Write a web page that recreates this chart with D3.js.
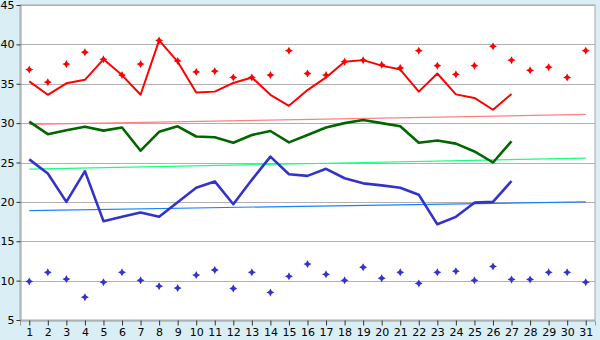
<!DOCTYPE html>
<html>
<head>
<meta charset="utf-8">
<script src="https://cdn.jsdelivr.net/npm/d3@7"></script>
<style>
  body { margin: 0; background: #d9eef5; }
  text { font-family: "DejaVu Sans", Verdana, sans-serif; font-size: 11px; fill: #000; }
</style>
</head>
<body>
<div id="chart"></div>
<script>
var days = d3.range(1, 32);
var yTicks = [5, 10, 15, 20, 25, 30, 35, 40, 45];

// lines run day 1..27
var redLine = [35.3, 33.6, 35.05, 35.5, 38.1, 36.1, 33.6, 40.5, 37.8, 33.9,
  34.0, 35.1, 35.8, 33.6, 32.2, 34.2, 35.8, 37.8, 38.0, 37.3,
  36.8, 34.0, 36.3, 33.65, 33.2, 31.7, 33.7];
var greenLine = [30.2, 28.6, 29.1, 29.55, 29.05, 29.45, 26.5, 28.9, 29.6, 28.3,
  28.2, 27.5, 28.5, 29.0, 27.55, 28.5, 29.45, 30.0, 30.4, 30.0,
  29.6, 27.5, 27.8, 27.4, 26.4, 25.0, 27.7];
var blueLine = [25.4, 23.6, 20.0, 23.9, 17.55, 18.1, 18.65, 18.1, 19.95, 21.8,
  22.6, 19.7, 22.8, 25.75, 23.5, 23.3, 24.2, 23.0, 22.35, 22.1,
  21.8, 20.9, 17.15, 18.1, 19.9, 20.0, 22.65];

// markers run day 1..31
var redDots = [36.8, 35.2, 37.5, 39.0, 38.1, 36.1, 37.5, 40.5, 37.9, 36.5,
  36.6, 35.8, 35.8, 36.1, 39.2, 36.3, 36.1, 37.8, 38.0, 37.4,
  37.0, 39.2, 37.3, 36.2, 37.3, 39.75, 38.0, 36.7, 37.1, 35.8, 39.2];
var blueDots = [9.9, 11.05, 10.2, 7.9, 9.8, 11.05, 10.04, 9.3, 9.06, 10.7,
  11.35, 9.0, 11.05, 8.5, 10.55, 12.1, 10.8, 10.04, 11.7, 10.3,
  11.05, 9.65, 11.05, 11.2, 10.04, 11.8, 10.15, 10.15, 11.05, 11.05, 9.8];

// trend lines: value at day 1 and day 31
var redTrend = [29.85, 31.1];
var greenTrend = [24.15, 25.55];
var blueTrend = [18.9, 20.0];

var width = 600, height = 340;
var margin = {top: 5, left: 20, right: 5, bottom: 20};

var svg = d3.select("#chart")
  .append("svg")
  .attr("width", width)
  .attr("height", height);

var xScale = d3.scalePoint()
  .domain(days)
  .range([margin.left, width - margin.right])
  .padding(0.5);

var yScale = d3.scaleLinear()
  .domain([5, 45])
  .range([height - margin.bottom, margin.top]);

// plot area
svg.append("rect")
  .attr("x", margin.left)
  .attr("y", margin.top)
  .attr("width", width - margin.left - margin.right)
  .attr("height", height - margin.top - margin.bottom)
  .attr("fill", "#fff")
  .attr("stroke", "#a8a8a8");

// gridlines
svg.append("g")
  .selectAll("line")
  .data(yTicks.slice(1))
  .enter()
  .append("line")
    .attr("x1", margin.left)
    .attr("x2", width - margin.right)
    .attr("y1", function(d) { return Math.round(yScale(d)) + 0.5; })
    .attr("y2", function(d) { return Math.round(yScale(d)) + 0.5; })
    .attr("stroke", "#b0b0b0");

var yAxis = svg.append("g")
  .attr("transform", `translate(${margin.left + 0.5},0)`)
  .call(d3.axisLeft(yScale).tickValues(yTicks).tickSize(4).tickPadding(2));

var xAxis = svg.append("g")
  .attr("transform", `translate(0,${height - margin.bottom + 0.5})`)
  .call(d3.axisBottom(xScale).tickSize(5).tickPadding(3));

svg.selectAll(".domain").attr("stroke", "#999");
svg.selectAll(".tick line").attr("stroke", "#333");
svg.selectAll(".tick text").style("font-size", "11px").style("font-family", "DejaVu Sans, sans-serif");

// trend lines
function trend(vals, color) {
  svg.append("line")
    .attr("x1", xScale(days[0]))
    .attr("x2", xScale(days[days.length - 1]))
    .attr("y1", yScale(vals[0]))
    .attr("y2", yScale(vals[1]))
    .attr("stroke", color)
    .attr("stroke-width", 1.2);
}
trend(redTrend, "#ff8080");
trend(greenTrend, "#19ff80");
trend(blueTrend, "#1a80ff");

function series(vals, color, w) {
  var line = d3.line()
    .x(function(d, i) { return xScale(days[i]); })
    .y(function(d) { return yScale(d); });
  svg.append("path")
    .datum(vals)
    .attr("d", line)
    .attr("fill", "none")
    .attr("stroke", color)
    .attr("stroke-width", w)
    .attr("stroke-linejoin", "round");
}
series(redLine, "#ff0000", 2);
series(greenLine, "#006600", 2.6);
series(blueLine, "#3333cc", 2.6);

// small four-pointed star marker
var marker = "M0,-4L1.4,-1.4L4,0L1.4,1.4L0,4L-1.4,1.4L-4,0L-1.4,-1.4Z";

function dots(vals, color) {
  svg.append("g")
    .selectAll("path")
    .data(vals)
    .enter()
    .append("path")
      .attr("d", marker)
      .attr("transform", function(d, i) { return `translate(${xScale(days[i])},${yScale(d)})`; })
      .attr("fill", color);
}
dots(redDots, "#ff0000");
dots(blueDots, "#3333cc");
</script>
</body>
</html>
